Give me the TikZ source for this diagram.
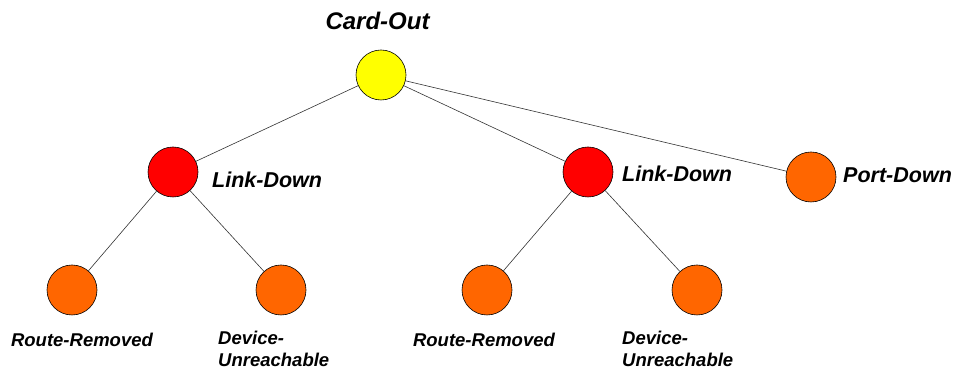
\documentclass[tikz,border=0pt]{standalone}
\usepackage{fontspec}
\setmainfont{Liberation Sans}
\usetikzlibrary{positioning}
\definecolor{cardyellow}{HTML}{FFFF00}
\definecolor{linkred}{HTML}{FF0000}
\definecolor{leaforange}{HTML}{FF6600}
\tikzset{
  alarm/.style={circle,draw=black,line width=0.6pt,minimum size=50pt,inner sep=0pt},
  lbl/.style={font=\fontsize{18.5}{21.5}\selectfont\bfseries\itshape,inner sep=0pt,align=left},
  biglbl/.style={lbl,font=\fontsize{21.5}{24}\selectfont\bfseries\itshape},
  link/.style={line width=0.6pt,draw=black!80}
}

\begin{document}
\begin{tikzpicture}[x=1pt,y=1pt]
\useasboundingbox (0,0) rectangle (955,371);
% root and first level
\node[alarm,fill=cardyellow] (card) at (381,296) {};
\node[lbl,font=\fontsize{24}{27}\selectfont\bfseries\itshape] (cardlbl) at (377.5,350) {Card-Out};
\node[alarm,fill=linkred] (linkL) at (173,199) {};
\node[alarm,fill=linkred] (linkR) at (588,199) {};
\node[alarm,fill=leaforange] (port) at (811,194) {};
\node[biglbl,anchor=west] (linkLlbl) at (212,191.5) {Link-Down};
\node[biglbl,anchor=west] (linkRlbl) at (622,197) {Link-Down};
\node[biglbl,anchor=west] (portlbl) at (843,195.5) {Port-Down};
% leaves
\node[alarm,fill=leaforange] (routeL) at (72,81) {};
\node[alarm,fill=leaforange] (devL) at (281,81) {};
\node[alarm,fill=leaforange] (routeR) at (487,81) {};
\node[alarm,fill=leaforange] (devR) at (697,81) {};
\node[lbl] (routeLlbl) at (82,31) {Route-Removed};
\node[lbl] (routeRlbl) at (484,31) {Route-Removed};
\node[lbl,anchor=west] (devLlbl) at (218,22) {Device-\\Unreachable};
\node[lbl,anchor=west] (devRlbl) at (622,22) {Device-\\Unreachable};
% edges
\draw[link] (card)--(linkL);
\draw[link] (card)--(linkR);
\draw[link] (card)--(port);
\draw[link] (linkL)--(routeL);
\draw[link] (linkL)--(devL);
\draw[link] (linkR)--(routeR);
\draw[link] (linkR)--(devR);
\end{tikzpicture}
\end{document}
